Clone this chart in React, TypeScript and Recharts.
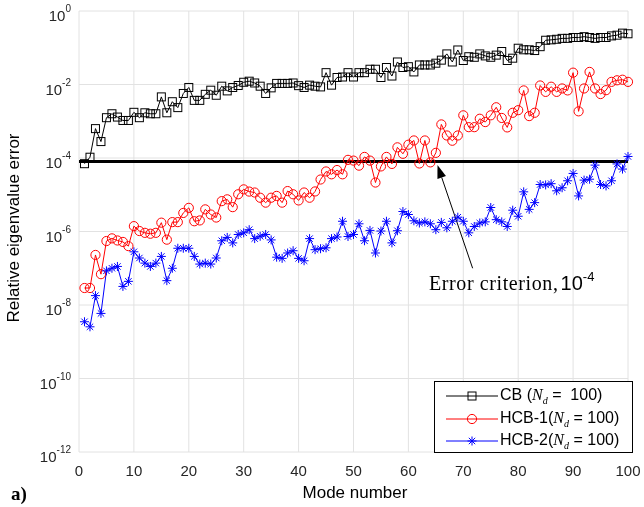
import { LineChart, Line, XAxis, YAxis, CartesianGrid, ReferenceLine, Legend } from 'recharts'

// mode numbers on the x axis
const modes = Array.from({ length: 100 }, (_, i) => i + 1)

// relative eigenvalue errors
const cbError = [
  7e-5, 1.05e-4, 6.3e-4, 2.8e-4, 1.25e-3, 1.6e-3, 1.3e-3, 1.05e-3, 1.05e-3, 1.75e-3,
  1.25e-3, 1.7e-3, 1.6e-3, 1.6e-3, 4.6e-3, 1.7e-3, 3.4e-3, 2.35e-3, 5.7e-3, 8.3e-3,
  3.7e-3, 3.7e-3, 5.4e-3, 7e-3, 5.1e-3, 9e-3, 6.7e-3, 8.3e-3, 9.4e-3, 1.15e-2,
  1.23e-2, 1.1e-2, 9e-3, 5.7e-3, 8.1e-3, 1.07e-2, 1.07e-2, 1.07e-2, 1.1e-2, 9.3e-3,
  8.3e-3, 9.6e-3, 9e-3, 8.6e-3, 2.1e-2, 9.6e-3, 1.55e-2, 1.6e-2, 2.1e-2, 1.6e-2,
  2.1e-2, 2.1e-2, 2.6e-2, 2.6e-2, 1.55e-2, 2.9e-2, 1.7e-2, 4.1e-2, 2.9e-2, 3.05e-2,
  2.2e-2, 3.4e-2, 3.4e-2, 3.4e-2, 3.8e-2, 4.6e-2, 6.8e-2, 4.1e-2, 8.7e-2, 4.5e-2,
  5.7e-2, 5.5e-2, 6.8e-2, 6e-2, 5.5e-2, 6.3e-2, 7.9e-2, 4.5e-2, 5.2e-2, 9.7e-2,
  8.8e-2, 8.8e-2, 8.4e-2, 0.107, 0.16, 0.164, 0.17, 0.18, 0.18, 0.19,
  0.19, 0.2, 0.19, 0.18, 0.19, 0.19, 0.21, 0.22, 0.25, 0.24,
]
const hcb1Error = [
  2.9e-8, 2.9e-8, 2.3e-7, 6.9e-8, 5.5e-7, 6.5e-7, 5.7e-7, 5.2e-7, 4e-7, 1.4e-6,
  1.03e-6, 9.2e-7, 8.7e-7, 9.2e-7, 1.74e-6, 6e-7, 1.8e-6, 1.8e-6, 3.2e-6, 4.4e-6,
  1.9e-6, 2e-6, 4e-6, 2.9e-6, 2.4e-6, 6.7e-6, 7.5e-6, 4.6e-6, 1.03e-5, 1.4e-5,
  1.22e-5, 1.15e-5, 8.3e-6, 6.1e-6, 8.3e-6, 9.3e-6, 6.1e-6, 1.26e-5, 1.03e-5, 7e-6,
  1.15e-5, 8.3e-6, 1.23e-5, 2.6e-5, 4.3e-5, 3.6e-5, 4.7e-5, 3.6e-5, 8.9e-5, 8.5e-5,
  6.2e-5, 1.07e-4, 8.5e-5, 2.15e-5, 5.9e-5, 1.07e-4, 6.9e-5, 1.95e-4, 1.3e-4, 2.3e-4,
  3e-4, 7.1e-5, 3e-4, 7.6e-5, 1.38e-4, 8.2e-4, 4.1e-4, 2.95e-4, 4.1e-4, 1.45e-3,
  6.9e-4, 6.9e-4, 1.17e-3, 9.5e-4, 1.45e-3, 2.4e-3, 1.23e-3, 6.8e-4, 1.7e-3, 2e-3,
  6.9e-3, 1.38e-3, 1.7e-3, 9.4e-3, 6.3e-3, 8.7e-3, 6.3e-3, 7.8e-3, 6.9e-3, 2.1e-2,
  1.86e-3, 7.8e-3, 2.2e-2, 7.8e-3, 5.5e-3, 7e-3, 1.18e-2, 1.3e-2, 1.35e-2, 1.18e-2,
]
const hcb2Error = [
  3.5e-9, 2.55e-9, 1.8e-8, 5.9e-9, 8.5e-8, 1e-7, 1.12e-7, 3.2e-8, 4.4e-8, 2.8e-7,
  1.9e-7, 1.38e-7, 1.12e-7, 1.38e-7, 2.1e-7, 4.6e-8, 1e-7, 3.5e-7, 3.5e-7, 3.5e-7,
  2.1e-7, 1.3e-7, 1.38e-7, 1.3e-7, 1.9e-7, 5.6e-7, 6.9e-7, 4.9e-7, 8.3e-7, 9.2e-7,
  1.12e-6, 6.4e-7, 7.4e-7, 8.3e-7, 5.9e-7, 2e-7, 1.86e-7, 2.6e-7, 3e-7, 1.86e-7,
  1.6e-7, 6.4e-7, 3.2e-7, 3.4e-7, 3.6e-7, 6.4e-7, 7.1e-7, 1.9e-6, 7.3e-7, 8.3e-7,
  1.62e-6, 5.6e-7, 1.07e-6, 2.6e-7, 1.03e-6, 1.9e-6, 4.9e-7, 1.05e-6, 3.5e-6, 2.9e-6,
  1.96e-6, 1.7e-6, 1.83e-6, 1.62e-6, 1.12e-6, 1.77e-6, 1.26e-6, 1.9e-6, 2.45e-6, 1.9e-6,
  9.2e-7, 1.37e-6, 1.7e-6, 1.83e-6, 4.5e-6, 2.1e-6, 1.83e-6, 1.37e-6, 3.8e-6, 2.6e-6,
  1.2e-5, 4e-6, 6.1e-6, 1.9e-5, 1.85e-5, 2e-5, 1.28e-5, 1.55e-5, 2.4e-5, 3.8e-5,
  9.3e-6, 2.5e-5, 2.65e-5, 6.4e-5, 1.9e-5, 1.74e-5, 2.4e-5, 6.9e-5, 5e-5, 1.1e-4,
]

const xTicks = [0, 10, 20, 30, 40, 50, 60, 70, 80, 90, 100]
const yTicks = [1e-12, 1e-10, 1e-8, 1e-6, 1e-4, 1e-2, 1]

// thick horizontal criterion line and the arrow pointing at it
const criterion = 8e-5
const arrowTail = { mode: 71.7, error: 1e-7 }
const arrowTip = { mode: 65.3, error: 6.4e-5 }

const data = modes.map((m, i) => ({
  mode: m,
  cb: cbError[i],
  hcb1: hcb1Error[i],
  hcb2: hcb2Error[i],
}))

const SANS = '"Liberation Sans", Arial, Helvetica, sans-serif'
const SERIF = '"Liberation Serif", "Times New Roman", serif'
const AXIS = '#262626'
const RED = '#ff0000'
const BLUE = '#0000ff'

function Square({ cx, cy, color }: any) {
  return <rect x={cx - 4} y={cy - 4} width={8} height={8} fill="none" stroke={color} strokeWidth={1} />
}
function Circle({ cx, cy, color }: any) {
  return <circle cx={cx} cy={cy} r={4.6} fill="none" stroke={color} strokeWidth={1} />
}
function Star({ cx, cy, color }: any) {
  const s = 4.5
  const d = 3.2
  return (
    <g stroke={color} strokeWidth={1}>
      <line x1={cx - s} y1={cy} x2={cx + s} y2={cy} />
      <line x1={cx} y1={cy - s} x2={cx} y2={cy + s} />
      <line x1={cx - d} y1={cy - d} x2={cx + d} y2={cy + d} />
      <line x1={cx - d} y1={cy + d} x2={cx + d} y2={cy - d} />
    </g>
  )
}

const markers: Record<string, any> = { cb: Square, hcb1: Circle, hcb2: Star }

const dotFor = (key: string, color: string) => (p: any) => {
  const M = markers[key]
  if (p.cx == null || p.cy == null) return <g key={`${key}-${p.index}`} />
  return (
    <g key={`${key}-${p.index}`}>
      <M cx={p.cx} cy={p.cy} color={color} />
    </g>
  )
}

function PowerTick({ x, y, payload }: any) {
  const exp = Math.round(Math.log10(payload.value))
  return (
    <text x={x - 8} y={y + 10} textAnchor="end" fontFamily={SANS} fontSize={15} fill={AXIS}>
      10
      <tspan dy={-9} fontSize={10}>
        {exp}
      </tspan>
    </text>
  )
}

function ModeTick({ x, y, payload }: any) {
  return (
    <text x={x} y={y + 24} textAnchor="middle" fontFamily={SANS} fontSize={15} fill={AXIS}>
      {payload.value}
    </text>
  )
}

function ArrowShape({ x1, y1, x2, y2 }: any) {
  const len = Math.hypot(x2 - x1, y2 - y1)
  const ux = (x2 - x1) / len
  const uy = (y2 - y1) / len
  const hl = 13
  const hw = 4.5
  const bx = x2 - ux * hl
  const by = y2 - uy * hl
  return (
    <g>
      <line x1={x1} y1={y1} x2={bx} y2={by} stroke="#000" strokeWidth={1} />
      <polygon
        points={`${x2},${y2} ${bx - uy * hw},${by + ux * hw} ${bx + uy * hw},${by - ux * hw}`}
        fill="#000"
      />
    </g>
  )
}

function LegendBox({ payload }: any) {
  return (
    <div
      style={{
        width: 199,
        height: 72,
        boxSizing: 'border-box',
        border: '1px solid #000',
        background: '#fff',
        paddingTop: 3,
        paddingLeft: 11,
      }}
    >
      {(payload || []).map((entry: any) => {
        const key = entry.dataKey as string
        const M = markers[key]
        return (
          <div key={key} style={{ display: 'flex', alignItems: 'center', height: 22.5 }}>
            <svg width={52} height={14} style={{ flex: 'none' }}>
              <line x1={0} y1={7} x2={52} y2={7} stroke={entry.color} strokeWidth={1} />
              <M cx={26} cy={7} color={entry.color} />
            </svg>
            <span
              style={{
                marginLeft: 2,
                fontFamily: SANS,
                fontSize: 16,
                color: '#000',
                whiteSpace: 'pre',
              }}
            >
              {entry.value}
              {key === 'cb' ? ' (' : '('}
              <span style={{ fontFamily: SERIF, fontStyle: 'italic' }}>N</span>
              <sub style={{ fontFamily: SERIF, fontStyle: 'italic', fontSize: 10 }}>d</sub>
              {key === 'cb' ? ' =  100)' : ' = 100)'}
            </span>
          </div>
        )
      })}
    </div>
  )
}

export default function App() {
  return (
    <div style={{ height: 491 }}>
      <div style={{ position: 'fixed', left: 0, top: 0, width: 644, height: 507 }}>
        <LineChart width={644} height={507} data={data} margin={{ top: 11, right: 16, left: 0, bottom: 0 }}>
          <CartesianGrid stroke="#e2e2e2" strokeWidth={1} />
          <XAxis
            dataKey="mode"
            type="number"
            domain={[0, 100]}
            ticks={xTicks}
            height={55}
            axisLine={false}
            tickLine={false}
            tickSize={0}
            tickMargin={0}
            tick={<ModeTick />}
            interval={0}
          />
          <YAxis
            type="number"
            scale="log"
            domain={[1e-12, 1]}
            allowDataOverflow
            ticks={yTicks}
            width={79}
            axisLine={false}
            tickLine={false}
            tickSize={0}
            tickMargin={0}
            tick={<PowerTick />}
            interval={0}
          />
          {/* box and inward ticks on all four sides */}
          <XAxis xAxisId="bt" orientation="bottom" mirror type="number" domain={[0, 100]} ticks={xTicks} height={0} tick={false} tickSize={5} stroke={AXIS} interval={0} />
          <XAxis xAxisId="tp" orientation="top" mirror type="number" domain={[0, 100]} ticks={xTicks} height={0} tick={false} tickSize={5} stroke={AXIS} interval={0} />
          <YAxis yAxisId="lt" orientation="left" mirror type="number" scale="log" domain={[1e-12, 1]} ticks={yTicks} width={0} tick={false} tickSize={5} stroke={AXIS} interval={0} />
          <YAxis yAxisId="rt" orientation="right" mirror type="number" scale="log" domain={[1e-12, 1]} ticks={yTicks} width={0} tick={false} tickSize={5} stroke={AXIS} interval={0} />
          <ReferenceLine y={criterion} stroke="#000" strokeWidth={3} />
          <Line
            dataKey="cb"
            name="CB"
            stroke="#000000"
            strokeWidth={1}
            dot={dotFor('cb', '#000000')}
            activeDot={false}
            isAnimationActive={false}
          />
          <Line
            dataKey="hcb1"
            name="HCB-1"
            stroke={RED}
            strokeWidth={1}
            dot={dotFor('hcb1', RED)}
            activeDot={false}
            isAnimationActive={false}
          />
          <Line
            dataKey="hcb2"
            name="HCB-2"
            stroke={BLUE}
            strokeWidth={1}
            dot={dotFor('hcb2', BLUE)}
            activeDot={false}
            isAnimationActive={false}
          />
          <ReferenceLine
            segment={[
              { x: arrowTail.mode, y: arrowTail.error },
              { x: arrowTip.mode, y: arrowTip.error },
            ]}
            shape={ArrowShape}
          />
          <Legend
            layout="vertical"
            align="center"
            verticalAlign="middle"
            content={<LegendBox />}
            wrapperStyle={{ position: 'absolute', left: 434, top: 381, width: 199, height: 72 }}
          />
        </LineChart>
        <svg
          width={644}
          height={507}
          style={{ position: 'absolute', left: 0, top: 0, overflow: 'visible', pointerEvents: 'none' }}
        >
          <text x={429} y={290} fontFamily={SERIF} fontSize={20} letterSpacing={0.6} fill="#000">
            Error criterion,
            <tspan dx={2} fontFamily={SANS} letterSpacing={0}>
              10
            </tspan>
            <tspan dy={-9} fontFamily={SANS} fontSize={13} letterSpacing={0}>
              -4
            </tspan>
          </text>
          <text
            transform="translate(19, 228) rotate(-90)"
            textAnchor="middle"
            fontFamily={SANS}
            fontSize={17}
            fill="#000"
          >
            Relative eigenvalue error
          </text>
          <text x={355} y={498} textAnchor="middle" fontFamily={SANS} fontSize={17} fill="#000">
            Mode number
          </text>
          <text x={11} y={500} fontFamily={SERIF} fontWeight="bold" fontSize={19} fill="#000">
            a)
          </text>
        </svg>
      </div>
    </div>
  )
}
